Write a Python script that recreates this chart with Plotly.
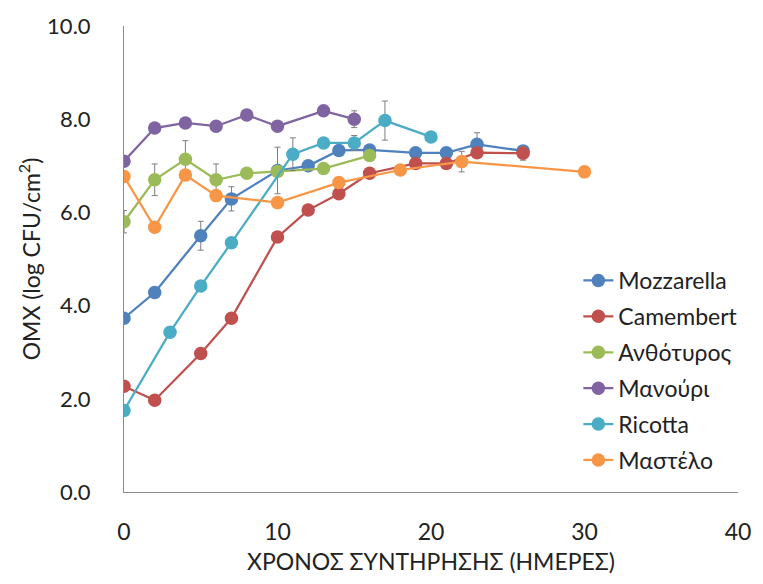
import plotly.graph_objects as go

# Storage time (days) and counts (log CFU/cm2) per cheese, with SD where shown
moz_days = [0, 2, 5, 7, 10, 12, 14, 16, 19, 21, 23, 26]
moz_vals = [3.73, 4.28, 5.50, 6.29, 6.90, 7.00, 7.33, 7.34, 7.28, 7.28, 7.46, 7.32]
moz_err = [0, 0, 0.31, 0.26, 0.50, 0, 0, 0, 0, 0, 0.25, 0]

cam_days = [0, 2, 5, 7, 10, 12, 14, 16, 19, 21, 23, 26]
cam_vals = [2.27, 1.97, 2.97, 3.73, 5.47, 6.05, 6.40, 6.84, 7.05, 7.05, 7.28, 7.27]
cam_err = [0, 0, 0, 0, 0, 0, 0, 0, 0, 0, 0, 0.15]

anth_days = [0, 2, 4, 6, 8, 10, 13, 16]
anth_vals = [5.80, 6.70, 7.14, 6.70, 6.84, 6.88, 6.94, 7.22]
anth_err = [0.24, 0.34, 0.40, 0.34, 0, 0, 0, 0]

man_days = [0, 2, 4, 6, 8, 10, 13, 15]
man_vals = [7.10, 7.81, 7.92, 7.85, 8.09, 7.85, 8.18, 8.00]
man_err = [0, 0, 0, 0, 0, 0.10, 0, 0.18]

ric_days = [0, 3, 5, 7, 11, 13, 15, 17, 20]
ric_vals = [1.75, 3.43, 4.42, 5.35, 7.25, 7.49, 7.49, 7.97, 7.62]
ric_err = [0, 0, 0, 0, 0.35, 0, 0.16, 0.42, 0]

mast_days = [0, 2, 4, 6, 10, 14, 18, 22, 30]
mast_vals = [6.77, 5.68, 6.80, 6.36, 6.21, 6.64, 6.91, 7.09, 6.87]
mast_err = [0, 0, 0, 0, 0, 0, 0, 0.22, 0]

series = [
    ("Mozzarella", moz_days, moz_vals, moz_err, "#4F81BD"),
    ("Camembert", cam_days, cam_vals, cam_err, "#C0504D"),
    ("Ανθότυρος", anth_days, anth_vals, anth_err, "#9BBB59"),
    ("Μανούρι", man_days, man_vals, man_err, "#8064A2"),
    ("Ricotta", ric_days, ric_vals, ric_err, "#4BACC6"),
    ("Μαστέλο", mast_days, mast_vals, mast_err, "#F79646"),
]

FONT = "Lato, Open Sans, sans-serif"
SIZE = 23

fig = go.Figure()
for name, xs, ys, errs, color in series:
    fig.add_trace(go.Scatter(
        x=xs, y=ys, name=name, mode="lines+markers",
        legendgroup=name,
        line=dict(color=color, width=2.25),
        marker=dict(color=color, size=13.5, line=dict(width=0)),
        error_y=dict(type="data", array=errs, visible=True,
                     color="#7f7f7f", thickness=1, width=3),
    ))

fig.update_layout(
    width=763, height=584,
    margin=dict(l=124, r=20, t=20, b=92),
    paper_bgcolor="white", plot_bgcolor="white",
    font=dict(family=FONT, size=SIZE, color="#222222"),
    showlegend=True,
    legend=dict(
        x=0.740, y=0.500, xanchor="left", yanchor="top",
        font=dict(family=FONT, size=SIZE, color="#222222"),
        tracegroupgap=3, bgcolor="rgba(0,0,0,0)",
    ),
    xaxis=dict(
        range=[0, 40], dtick=10, tick0=0,
        showline=True, linecolor="#8c8c8c", linewidth=1,
        showgrid=False, zeroline=False, ticks="",
        ticklabelstandoff=19,
        tickfont=dict(family=FONT, size=SIZE),
        title=dict(text="ΧΡΟΝΟΣ ΣΥΝΤΗΡΗΣΗΣ (ΗΜΕΡΕΣ)", standoff=10,
                   font=dict(family=FONT, size=SIZE)),
    ),
    yaxis=dict(
        range=[0, 10], dtick=2, tick0=0, tickformat=".1f",
        showline=True, linecolor="#8c8c8c", linewidth=1,
        showgrid=False, zeroline=False, ticks="",
        ticklabelstandoff=28,
        tickfont=dict(family=FONT, size=22),
        title=dict(text="OMX (log CFU/cm<sup>2</sup>)", standoff=0,
                   font=dict(family=FONT, size=SIZE)),
    ),
)

fig.write_html("out.html")
